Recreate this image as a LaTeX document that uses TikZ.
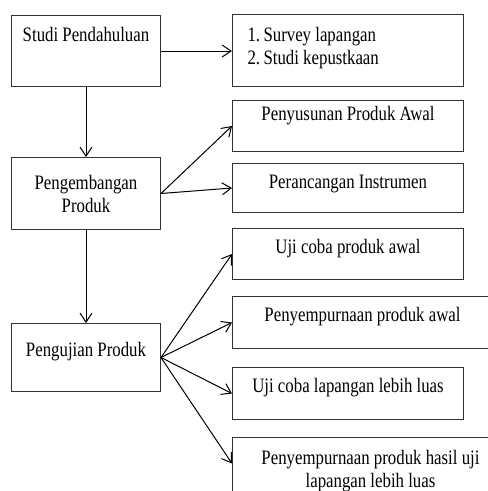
\documentclass[tikz,border=0pt]{standalone}
\usepackage{fontspec}
\setmainfont{Liberation Serif}[FakeStretch=0.82]
\usetikzlibrary{arrows.meta,positioning}

\begin{document}
\begin{tikzpicture}[x=1pt,y=-1pt,line width=1pt,
  box/.style={draw=black!80,anchor=north west,inner sep=0pt},
  txt/.style={inner sep=0pt,font=\fontsize{20.5}{23}\selectfont},
  arr/.style={-{Straight Barb[length=9pt,width=12pt]},line width=1pt}]
\clip (0,0) rectangle (488,491);
% left column
\node[box,minimum width=149pt,minimum height=71pt] (studi) at (11,15) {};
\node[box,minimum width=149pt,minimum height=72pt] (kembang) at (11,157) {};
\node[box,minimum width=149pt,minimum height=68pt] (uji) at (11,323) {};
\node[txt,below=12pt of studi.north] (tStudi) {Studi Pendahuluan};
\node[txt,align=center] (tKembang) at (kembang.center) {Pengembangan\\Produk};
\node[txt,below=19pt of uji.north] (tUji) {Pengujian Produk};
% right column
\node[box,minimum width=231pt,minimum height=72pt] (survey) at (232,14) {};
\node[box,minimum width=231pt,minimum height=51pt] (susun) at (232,100) {};
\node[box,minimum width=231pt,minimum height=49pt] (rancang) at (232,163) {};
\node[box,minimum width=231pt,minimum height=51pt] (ujiawal) at (232,228) {};
\node[box,minimum width=260pt,minimum height=52pt] (sempurna) at (232,296) {};
\node[box,minimum width=231pt,minimum height=52pt] (ujiluas) at (232,367) {};
\node[box,minimum width=276pt,minimum height=60pt] (hasil) at (232,437) {};
\node[txt,align=left,anchor=north west] (tSurvey) at ([xshift=15pt,yshift=-13pt]survey.north west) {1.\,Survey lapangan\\2.\,Studi kepustkaan};
\node[txt,below=6pt of susun.north] (tSusun) {Penyusunan Produk Awal};
\node[txt,below=12pt of rancang.north] (tRancang) {Perancangan Instrumen};
\node[txt,below=11pt of ujiawal.north] (tUjiawal) {Uji coba produk awal};
\node[txt,below=11pt of sempurna.north] (tSempurna) {Penyempurnaan produk awal};
\node[txt,below=11pt of ujiluas.north] (tUjiluas) {Uji coba lapangan lebih luas};
\node[txt,align=center,below=13pt of hasil.north] (tHasil) {Penyempurnaan produk hasil uji\\lapangan lebih luas};
% arrows
\draw[arr] (studi.east) -- (studi.east -| survey.west);
\draw[arr] (studi.south) -- (kembang.north);
\draw[arr] (kembang.south) -- (uji.north);
\draw[arr] (kembang.east) -- (susun.west);
\draw[arr] (kembang.east) -- (rancang.west);
\draw[arr] (uji.east) -- (ujiawal.west);
\draw[arr] (uji.east) -- (sempurna.west);
\draw[arr] (uji.east) -- (ujiluas.west);
\draw[arr] (uji.east) -- ([yshift=4pt]hasil.west);
\end{tikzpicture}
\end{document}
